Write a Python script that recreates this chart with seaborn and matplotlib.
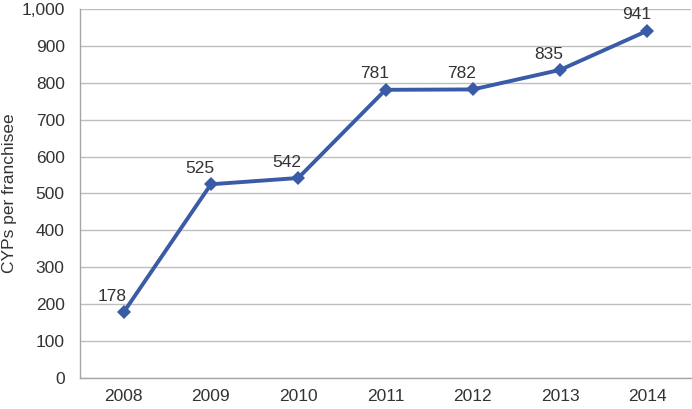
import matplotlib
matplotlib.use("Agg")
import matplotlib.pyplot as plt
import seaborn as sns
import pandas as pd

years = ["2008", "2009", "2010", "2011", "2012", "2013", "2014"]
cyps = [178, 525, 542, 781, 782, 835, 941]

sns.set_style("white")
plt.rcParams['font.family'] = ['Liberation Sans', 'DejaVu Sans']

df = pd.DataFrame({"year": years, "cyps": cyps})

fig, ax = plt.subplots(figsize=(6.92, 4.09), dpi=100)
fig.subplots_adjust(left=0.1156, right=0.9986, top=0.978, bottom=0.0758)

sns.lineplot(data=df, x="year", y="cyps", ax=ax, color="#3A5BA6", linewidth=2.8,
             marker="D", markersize=7.5, markeredgewidth=0, sort=False)

for i, v in enumerate(cyps):
    ax.annotate(f"{v}", (i, v), xytext=(-8, 6), textcoords="offset points",
                ha="center", va="bottom", fontsize=12.5, color="#333333")

ax.set_xlim(-0.5, 6.5)
ax.set_ylim(0, 1000)
ax.set_yticks(range(0, 1001, 100))
ax.set_yticklabels([f"{t:,}" for t in range(0, 1001, 100)])
ax.set_xticks([-0.5, 6.5], minor=True)
ax.yaxis.grid(True, color="#BEBEBE", linewidth=1)
ax.set_axisbelow(True)

for s in ["top", "right"]:
    ax.spines[s].set_visible(False)
for s in ["left", "bottom"]:
    ax.spines[s].set_color("#A6A6A6")
    ax.spines[s].set_linewidth(1)

ax.tick_params(axis="both", which="both", direction="out", length=4, width=1,
               color="#A6A6A6", labelsize=12.5, labelcolor="#333333")
ax.tick_params(axis="y", which="major", pad=7)
ax.tick_params(axis="x", which="major", pad=4)

ax.set_xlabel("")
ax.set_ylabel("CYPs per franchisee", fontsize=12.5, color="#333333")
ax.yaxis.label.set_va("center")
ax.yaxis.set_label_coords(-0.1146, 0.5)

fig.savefig("out.png", dpi=100)
